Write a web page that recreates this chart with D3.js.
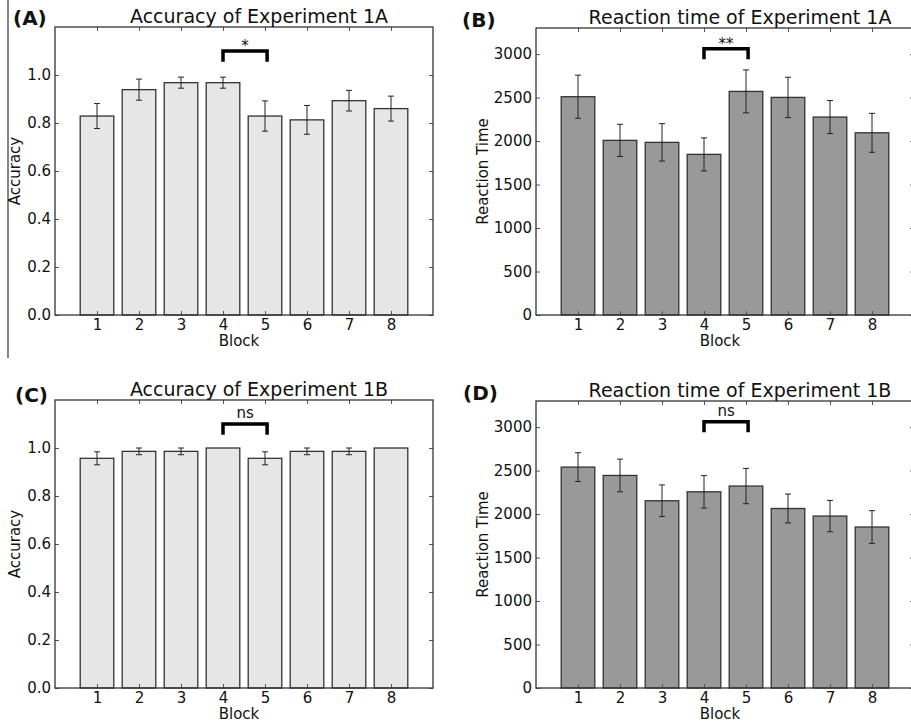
<!DOCTYPE html>
<html>
<head>
<meta charset="utf-8">
<script src="https://cdn.jsdelivr.net/npm/d3@7"></script>
<style>
  body { margin: 0; background: #fff; }
  text { font-family: "DejaVu Sans", sans-serif; fill: #111; }
</style>
</head>
<body>
<script>
//Data
var blocks = [1, 2, 3, 4, 5, 6, 7, 8];

var acc1A    = [0.829, 0.939, 0.968, 0.968, 0.829, 0.813, 0.893, 0.860];
var acc1AErr = [0.052, 0.044, 0.023, 0.023, 0.063, 0.060, 0.043, 0.052];

var rt1A    = [2510, 2008, 1985, 1847, 2571, 2502, 2276, 2095];
var rt1AErr = [248, 185, 215, 190, 247, 232, 190, 224];

var acc1B    = [0.957, 0.986, 0.986, 1.0, 0.957, 0.986, 0.986, 1.0];
var acc1BErr = [0.027, 0.014, 0.014, 0, 0.027, 0.014, 0.014, 0];

var rt1B    = [2540, 2444, 2153, 2256, 2322, 2064, 1977, 1851];
var rt1BErr = [165, 188, 182, 186, 203, 166, 180, 188];

var accTicks = [0, 0.2, 0.4, 0.6, 0.8, 1.0];
var rtTicks  = [0, 500, 1000, 1500, 2000, 2500, 3000];

//significance brackets between block 4 and 5: [leg bottom, top]
var accBracket = [1.055, 1.10];
var rtBracket  = [2940, 3060];
var sigLabels  = ["*", "**", "ns", "ns"];

//Width and height
var width = 911;
var height = 723;

var svg = d3.select("body")
            .append("svg")
            .attr("width", width)
            .attr("height", height);

svg.append("rect").attr("width", width).attr("height", height).attr("fill", "#fff");

//stray border line on the left of the original figure
svg.append("line")
   .attr("x1", 8).attr("x2", 8)
   .attr("y1", 0).attr("y2", 358)
   .attr("stroke", "#333").attr("stroke-width", 1.2);

var panels = [
  { tag: "(A)", tagX: 13, tagY: 25, title: "Accuracy of Experiment 1A", ylabel: "Accuracy", ylabelOff: 35,
    values: acc1A, errors: acc1AErr, ymax: 1.2, ticks: accTicks, fmt: d3.format(".1f"),
    fill: "#e6e6e6", bracket: accBracket, sig: sigLabels[0], box: [55, 433, 27, 315] },
  { tag: "(B)", tagX: 462, tagY: 27, title: "Reaction time of Experiment 1A", ylabel: "Reaction Time", ylabelOff: 48,
    values: rt1A, errors: rt1AErr, ymax: 3300, ticks: rtTicks, fmt: d3.format("d"),
    fill: "#999999", bracket: rtBracket, sig: sigLabels[1], box: [536, 914, 28, 315] },
  { tag: "(C)", tagX: 15, tagY: 402, title: "Accuracy of Experiment 1B", ylabel: "Accuracy", ylabelOff: 35,
    values: acc1B, errors: acc1BErr, ymax: 1.2, ticks: accTicks, fmt: d3.format(".1f"),
    fill: "#e6e6e6", bracket: accBracket, sig: sigLabels[2], box: [55, 433, 400, 688] },
  { tag: "(D)", tagX: 463, tagY: 400, title: "Reaction time of Experiment 1B", ylabel: "Reaction Time", ylabelOff: 48,
    values: rt1B, errors: rt1BErr, ymax: 3300, ticks: rtTicks, fmt: d3.format("d"),
    fill: "#999999", bracket: rtBracket, sig: sigLabels[3], box: [536, 914, 401, 688] }
];

panels.forEach(function(p) {
    var x0 = p.box[0], x1 = p.box[1], y0 = p.box[2], y1 = p.box[3];

    var xScale = d3.scaleLinear().domain([0, 9]).range([x0, x1]);
    var yScale = d3.scaleLinear().domain([0, p.ymax]).range([y1, y0]);

    var rows = blocks.map(function(b, i) {
        return { block: b, v: p.values[i], e: p.errors[i] };
    });

    var g = svg.append("g");

    //bars
    g.selectAll("rect.bar")
     .data(rows)
     .enter()
     .append("rect")
     .attr("class", "bar")
     .attr("x", function(d) { return xScale(d.block - 0.4); })
     .attr("width", xScale(0.8) - xScale(0))
     .attr("y", function(d) { return yScale(d.v); })
     .attr("height", function(d) { return yScale(0) - yScale(d.v); })
     .attr("fill", p.fill)
     .attr("stroke", "#333")
     .attr("stroke-width", 1.3);

    //error bars
    var eb = g.selectAll("g.err")
              .data(rows.filter(function(d) { return d.e > 0; }))
              .enter()
              .append("g")
              .attr("class", "err");
    eb.append("line")
      .attr("x1", function(d) { return xScale(d.block); })
      .attr("x2", function(d) { return xScale(d.block); })
      .attr("y1", function(d) { return yScale(d.v + d.e); })
      .attr("y2", function(d) { return yScale(d.v - d.e); });
    eb.append("line")
      .attr("x1", function(d) { return xScale(d.block) - 3; })
      .attr("x2", function(d) { return xScale(d.block) + 3; })
      .attr("y1", function(d) { return yScale(d.v + d.e); })
      .attr("y2", function(d) { return yScale(d.v + d.e); });
    eb.append("line")
      .attr("x1", function(d) { return xScale(d.block) - 3; })
      .attr("x2", function(d) { return xScale(d.block) + 3; })
      .attr("y1", function(d) { return yScale(d.v - d.e); })
      .attr("y2", function(d) { return yScale(d.v - d.e); });
    eb.selectAll("line").attr("stroke", "#222").attr("stroke-width", 1);

    //axes, ticks pointing inward
    var axB = g.append("g").attr("transform", "translate(0," + y1 + ")")
               .call(d3.axisBottom(xScale).tickValues(blocks).tickSizeInner(-4).tickSizeOuter(0).tickPadding(4));
    var axT = g.append("g").attr("transform", "translate(0," + y0 + ")")
               .call(d3.axisTop(xScale).tickValues(blocks).tickSizeInner(-4).tickSizeOuter(0).tickFormat(""));
    var axL = g.append("g").attr("transform", "translate(" + x0 + ",0)")
               .call(d3.axisLeft(yScale).tickValues(p.ticks).tickFormat(p.fmt).tickSizeInner(-4).tickSizeOuter(0).tickPadding(4));
    var axR = g.append("g").attr("transform", "translate(" + x1 + ",0)")
               .call(d3.axisRight(yScale).tickValues(p.ticks).tickSizeInner(-4).tickSizeOuter(0).tickFormat(""));

    [axB, axT, axL, axR].forEach(function(a) {
        a.select(".domain").remove();
        a.selectAll(".tick line").attr("stroke", "#555").attr("stroke-width", 1);
        a.selectAll(".tick text").style("font-size", "15px").attr("fill", "#111");
    });

    //spines
    g.append("rect")
     .attr("x", x0).attr("y", y0)
     .attr("width", x1 - x0).attr("height", y1 - y0)
     .attr("fill", "none")
     .attr("stroke", "#333")
     .attr("stroke-width", 1.3);

    //significance bracket
    var bx1 = xScale(4), bx2 = xScale(5.05);
    g.append("path")
     .attr("d", "M" + bx1 + "," + yScale(p.bracket[0]) +
                "V" + yScale(p.bracket[1]) +
                "H" + bx2 +
                "V" + yScale(p.bracket[0]))
     .attr("fill", "none")
     .attr("stroke", "#000")
     .attr("stroke-width", 3.5)
     .attr("stroke-linejoin", "miter");

    //asterisks float high in the glyph box, so "ns" needs lifting to line up
    g.append("text")
     .attr("x", (bx1 + bx2) / 2)
     .attr("y", yScale(p.bracket[1]) - (p.sig === "ns" ? 6 : 0))
     .attr("text-anchor", "middle")
     .style("font-size", "15px")
     .text(p.sig);

    //title
    g.append("text")
     .attr("x", (x0 + x1) / 2 + 15)
     .attr("y", y0 - 4.5)
     .attr("text-anchor", "middle")
     .style("font-size", "19px")
     .text(p.title);

    //panel tag
    g.append("text")
     .attr("x", p.tagX)
     .attr("y", p.tagY)
     .style("font-size", "20px")
     .style("font-weight", "bold")
     .text(p.tag);

    //axis labels
    g.append("text")
     .attr("x", (x0 + x1) / 2 - 5)
     .attr("y", y1 + 31)
     .attr("text-anchor", "middle")
     .style("font-size", "15px")
     .text("Block");

    g.append("text")
     .attr("transform", "translate(" + (x0 - p.ylabelOff) + "," + ((y0 + y1) / 2) + ") rotate(-90)")
     .attr("text-anchor", "middle")
     .style("font-size", "15px")
     .text(p.ylabel);
});
</script>
</body>
</html>
